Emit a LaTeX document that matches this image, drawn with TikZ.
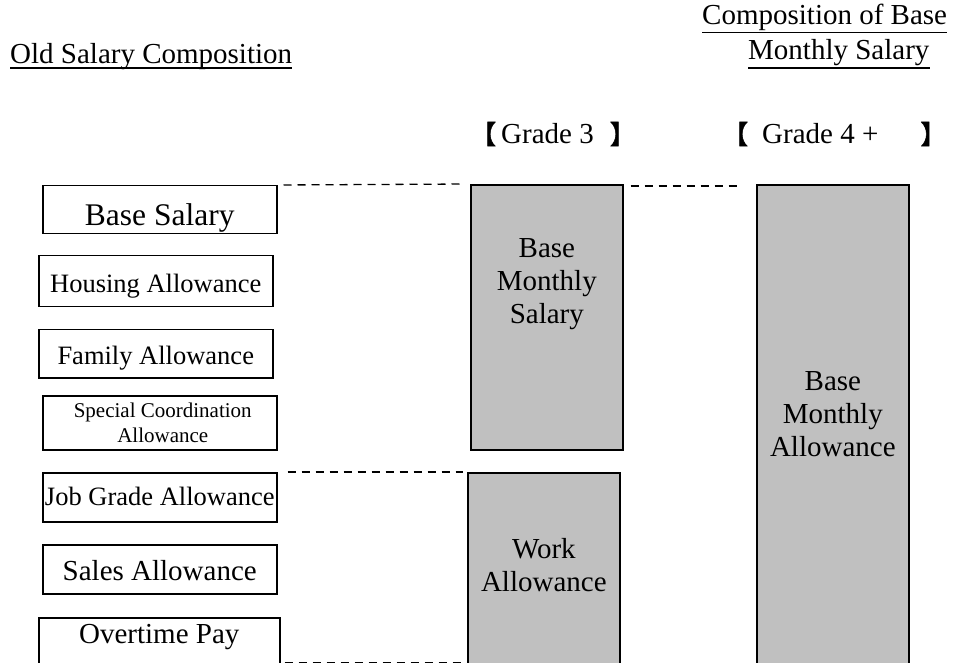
\documentclass[tikz,border=0pt]{standalone}
\usepackage{fontspec}
\setmainfont{Liberation Serif}
\newfontfamily\cjk[FakeBold=2]{Noto Sans CJK JP}
\usetikzlibrary{positioning}

\definecolor{paygray}{HTML}{C0C0C0}

\tikzset{
	oldbox/.style={draw, line width=1.5pt, inner sep=2pt, anchor=north west,
		minimum width=234pt, font=\fontsize{26.5}{30}\selectfont,
		text height=22pt, text depth=0pt},
	paybar/.style={draw, line width=1.7pt, fill=paygray, anchor=north west,
		minimum width=152pt},
	bartext/.style={inner sep=0pt, align=center, font=\fontsize{29}{33}\selectfont},
	heading/.style={inner sep=0pt, anchor=base west, font=\fontsize{29}{35}\selectfont},
	link/.style={line width=1.3pt, dash pattern=on 8pt off 6pt},
	underrule/.style={line width=1.6pt}
}
\newcommand\gradebracket[1]{{\cjk\fontsize{26}{26}\selectfont #1}}

\begin{document}
\begin{tikzpicture}[x=1pt, y=-1pt]
	\useasboundingbox (0,0) rectangle (954,663);
	\clip (0,0) rectangle (954,663);
	
	%%%%% headings %%%%%
	\node[heading] (oldhdr) at (10,64) {Old Salary Composition};
	\draw[underrule] ([yshift=-4pt]oldhdr.base west) -- ([yshift=-4pt]oldhdr.base east);
	
	\node[heading] (newhdr) at (702,25) {Composition of Base};
	\draw[underrule] ([yshift=-7.5pt]newhdr.base west) -- ([yshift=-7.5pt]newhdr.base east);
	\node[heading] (newhdrb) at (748,60) {Monthly Salary};
	\draw[underrule] ([yshift=-8pt]newhdrb.base west) -- ([yshift=-8pt]newhdrb.base east);
	
	\node[heading] (gradethree) at (470,144) {\gradebracket{【}\hspace{5pt}Grade 3\hspace{16pt}\gradebracket{】}};
	\node[heading] (gradefour) at (722,144) {\gradebracket{【}\hspace{14pt}Grade 4 +\hspace{42pt}\gradebracket{】}};
	
	%%%%% old items %%%%%
	\node[oldbox, minimum height=48pt, text height=32pt, font=\fontsize{31.5}{35}\selectfont] (basesal) at (42,185) {Base Salary\hspace{12pt}};
	\node[oldbox, minimum height=51pt] (housing) at (38,255) {Housing Allowance};
	\node[oldbox, minimum height=48pt] (family) at (38,329) {Family Allowance\hspace{9pt}};
	\node[oldbox, minimum height=54pt, align=center, text height=, text depth=, font=\fontsize{21}{25}\selectfont] (special) at (42,395) {\hspace{6pt}Special Coordination\\\hspace{6pt}Allowance};
	\node[oldbox, minimum height=49pt, text height=17pt] (jobgrade) at (42,472) {Job Grade Allowance};
	\node[oldbox, minimum height=49pt, font=\fontsize{29}{33}\selectfont] (sales) at (42,544) {Sales Allowance\hspace{13pt}};
	\node[oldbox, minimum width=241pt, minimum height=49pt, text height=20pt, text depth=17pt, font=\fontsize{29}{33}\selectfont] (overtime) at (38,617) {Overtime Pay\hspace{14pt}};
	
	%%%%% new items %%%%%
	\node[paybar, minimum height=265pt] (bms) at (470,184) {};
	\node[bartext, below=54pt of bms.north] (bmstext) {Base\\Monthly\\Salary};
	
	\node[paybar, minimum height=198pt] (work) at (467,472) {};
	\node[bartext, below=66pt of work.north] (worktext) {Work\\Allowance};
	
	\node[paybar, minimum height=486pt] (bma) at (756,184) {};
	\node[bartext, below=187pt of bma.north] (bmatext) {Base\\Monthly\\Allowance};
	
	%%%%% dashed links %%%%%
	\draw[link, shorten <=6pt, shorten >=8pt] (basesal.north east) -- (bms.north west);
	\draw[link, shorten <=7pt, shorten >=14pt] ([yshift=-2pt]bms.north east) -- ([yshift=-2pt]bma.north west);
	\draw[link, shorten <=10pt, shorten >=4pt] (jobgrade.north east) -- (work.north west);
	\draw[link, shorten <=4pt, shorten >=4pt] ([yshift=5pt]overtime.south east) -- ([yshift=5pt]overtime.south east -| work.west);
\end{tikzpicture}
\end{document}
